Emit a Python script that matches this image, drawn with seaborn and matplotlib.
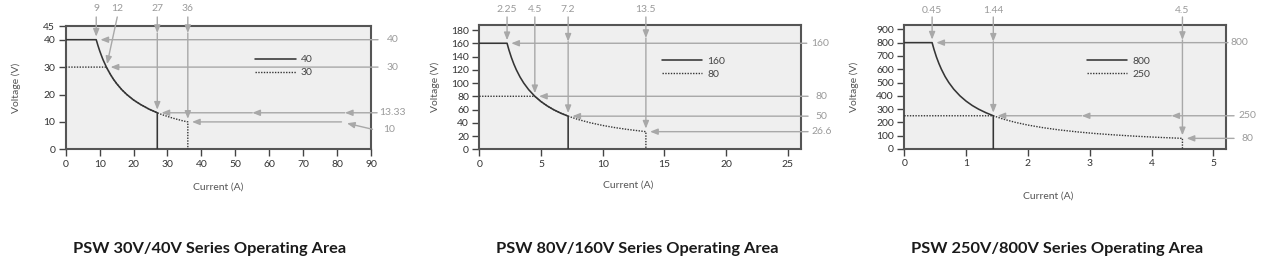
import matplotlib
matplotlib.use("Agg")
import matplotlib.pyplot as plt
import pandas as pd
import seaborn as sns

# ------------------------------------------------------------------ data
titles = ["PSW 30V/40V Series Operating Area",
          "PSW 80V/160V Series Operating Area",
          "PSW 250V/800V Series Operating Area"]

# panel 1 (30V / 40V models)
p1_series = ["40", "30"]
p1_cur_hi = [0, 9, 9.5, 10, 10.5, 11, 12, 13, 14, 15, 16.5, 18, 20, 22, 24.5, 27, 27]
p1_volt_hi = [40, 40, 37.9, 36, 34.3, 32.7, 30, 27.7, 25.7, 24, 21.8, 20, 18, 16.4, 14.7, 13.33, 0]
p1_cur_lo = [0, 12, 13, 14, 15, 16.5, 18, 20, 22, 24.5, 27, 28.5, 30, 31.5, 33, 34.5, 36, 36]
p1_volt_lo = [30, 30, 27.7, 25.7, 24, 21.8, 20, 18, 16.4, 14.7, 13.33, 12.6, 12, 11.4, 10.9, 10.4, 10, 0]
p1_mark_cur = [9, 12, 27, 36]
p1_mark_volt = [40, 30, 13.33, 10]
p1_mark_cur_lbl = ["9", "12", "27", "36"]
p1_mark_volt_lbl = ["40", "30", "13.33", "10"]
p1_xticks = [0, 10, 20, 30, 40, 50, 60, 70, 80, 90]
p1_yticks = [0, 10, 20, 30, 40, 45]

# panel 2 (80V / 160V models)
p2_series = ["160", "80"]
p2_cur_hi = [0, 2.25, 2.4, 2.6, 2.8, 3.0, 3.3, 3.6, 4.0, 4.5, 5.0, 5.5, 6.0, 6.6, 7.2, 7.2]
p2_volt_hi = [160, 160, 150, 138.5, 128.6, 120, 109.1, 100, 90, 80, 72, 65.5, 60, 54.5, 50, 0]
p2_cur_lo = [0, 4.5, 5.0, 5.5, 6.0, 6.6, 7.2, 8, 9, 10, 11, 12, 13.5, 13.5]
p2_volt_lo = [80, 80, 72, 65.5, 60, 54.5, 50, 45, 40, 36, 32.7, 30, 26.6, 0]
p2_mark_cur = [2.25, 4.5, 7.2, 13.5]
p2_mark_volt = [160, 80, 50, 26.6]
p2_mark_cur_lbl = ["2.25", "4.5", "7.2", "13.5"]
p2_mark_volt_lbl = ["160", "80", "50", "26.6"]
p2_xticks = [0, 5, 10, 15, 20, 25]
p2_yticks = [0, 20, 40, 60, 80, 100, 120, 140, 160, 180]

# panel 3 (250V / 800V models)
p3_series = ["800", "250"]
p3_cur_hi = [0, 0.45, 0.48, 0.52, 0.56, 0.6, 0.66, 0.72, 0.8, 0.9, 1.0, 1.1, 1.2, 1.32, 1.44, 1.44]
p3_volt_hi = [800, 800, 750, 692, 643, 600, 545, 500, 450, 400, 360, 327, 300, 273, 250, 0]
p3_cur_lo = [0, 1.44, 1.6, 1.8, 2.0, 2.25, 2.5, 2.8, 3.1, 3.4, 3.75, 4.1, 4.5, 4.5]
p3_volt_lo = [250, 250, 225, 200, 180, 160, 144, 128.6, 116, 106, 96, 87.8, 80, 0]
p3_mark_cur = [0.45, 1.44, 4.5]
p3_mark_volt = [800, 250, 80]
p3_mark_cur_lbl = ["0.45", "1.44", "4.5"]
p3_mark_volt_lbl = ["800", "250", "80"]
p3_xticks = [0, 1, 2, 3, 4, 5]
p3_yticks = [0, 100, 200, 300, 400, 500, 600, 700, 800, 900]

# ------------------------------------------------------------------ style
sns.set_theme(style="white")
plt.rcParams["font.family"] = ["Lato", "DejaVu Sans"]

GRAY = "#a8a8a8"
DARK = "#353535"
FRAME = "#555555"
FACE = "#efefef"

fig = plt.figure(figsize=(12.66, 2.70), dpi=100)

W, H = 1266.0, 270.0


def add_axes(left, right, top, bottom):
    return fig.add_axes([left / W, 1 - bottom / H, (right - left) / W, (bottom - top) / H])


def arrow(ax, start, end, sc, ec, shrinkB=0.0):
    ax.annotate("", xy=end, xycoords=ec, xytext=start, textcoords=sc,
                arrowprops=dict(arrowstyle="-|>,head_length=0.5,head_width=0.2",
                                color=GRAY, lw=1.0, shrinkA=0, shrinkB=shrinkB,
                                mutation_scale=9),
                annotation_clip=False, zorder=5)


XF = ("data", "axes fraction")   # x data, y axes fraction
FY = ("axes fraction", "data")   # x axes fraction, y data


def panel(ax, cur_hi, volt_hi, cur_lo, volt_lo, series, xticks, yticks, xlim, ylim,
          mark_cur, mark_volt, cur_lbl, volt_lbl, lay):
    ax.set_facecolor(FACE)
    d_hi = pd.DataFrame({"I": cur_hi, "V": volt_hi})
    d_lo = pd.DataFrame({"I": cur_lo, "V": volt_lo})
    sns.lineplot(data=d_hi, x="I", y="V", sort=False, estimator=None, ax=ax,
                 color=DARK, lw=1.15, label=series[0], zorder=4)
    sns.lineplot(data=d_lo, x="I", y="V", sort=False, estimator=None, ax=ax,
                 color=DARK, lw=1.0, ls=(0, (1, 1)), label=series[1], zorder=3)
    ax.set_xlim(*xlim)
    ax.set_ylim(*ylim)
    ax.set_xticks(xticks)
    ax.set_yticks(yticks)
    ax.tick_params(axis="both", direction="out", length=5, width=1, color="#444",
                   labelcolor="#333", labelsize=7.5, pad=2.5,
                   bottom=True, left=True)
    for sp in ax.spines.values():
        sp.set_visible(True)
        sp.set_color(FRAME)
        sp.set_linewidth(1.5)
    ax.set_xlabel("Current (A)", fontsize=7.5, color="#555")
    ax.set_ylabel("Voltage (V)", fontsize=7.5, color="#555")
    ax.xaxis.set_label_coords(*lay["xlabel"])
    ax.yaxis.set_label_coords(*lay["ylabel"])
    ax.legend(loc="upper left", bbox_to_anchor=lay["legend"], frameon=False,
              fontsize=7.5, handlelength=3.9, handletextpad=0.5, labelspacing=0.35,
              borderpad=0, borderaxespad=0, labelcolor="#444")

    # callouts from the top (current values)
    for i, (c, v, s) in enumerate(zip(mark_cur, mark_volt, cur_lbl)):
        lx = lay["top_lx"][i] if lay["top_lx"][i] is not None else c
        ax.text(lx, lay["top_ty"], s, transform=ax.get_xaxis_transform(),
                ha="center", va="center", fontsize=7.5, color="#9a9a9a")
        start = (lx, lay["top_y0"])
        mid = lay["top_mid"][i]
        if mid is not None:
            arrow(ax, start, (c, mid), XF, XF)
            start = (c, mid)
        arrow(ax, start, (c, v), XF, "data", shrinkB=2.2)

    # callouts from the right (voltage values)
    for i, (c, v, s) in enumerate(zip(mark_cur, mark_volt, volt_lbl)):
        tx, ty = lay["right_txt"][i]
        ax.text(tx, v if ty is None else ty, s, transform=ax.get_yaxis_transform(),
                ha="left", va="center", fontsize=7.5, color="#9a9a9a")
        kink = lay["right_kink"][i]
        if kink is not None:
            (k0, k1, k2) = kink
            arrow(ax, k0, k1, FY, "data")
            start, sc = k2, "data"
        else:
            start, sc = (lay["right_x0"][i], v), FY
        for m in lay["right_mid"][i]:
            arrow(ax, start, (m, v), sc, "data")
            start, sc = (m, v), "data"
        arrow(ax, start, (c, v), sc, "data", shrinkB=3.0)


# ------------------------------------------------------------------ panel 1
ax1 = add_axes(65.7, 371.0, 26.0, 149.3)
lay1 = dict(
    xlabel=(0.5, -0.27), ylabel=(-0.145, 0.5), legend=(0.62, 0.765),
    top_ty=1.138, top_y0=1.073, top_lx=[None, 15.2, None, None],
    top_mid=[None, None, 0.943, 0.943],
    right_txt=[(1.051, None), (1.051, None), (1.026, None), (1.039, 7.4)],
    right_x0=[1.023, 1.023, 1.02, None],
    right_mid=[[], [], [82.3, 55.0], []],
    right_kink=[None, None, None, ((1.005, 7.3), (82.9, 9.5), (81.3, 10))],
)
panel(ax1, p1_cur_hi, p1_volt_hi, p1_cur_lo, p1_volt_lo, p1_series, p1_xticks, p1_yticks,
      (0, 90), (0, 45), p1_mark_cur, p1_mark_volt, p1_mark_cur_lbl, p1_mark_volt_lbl, lay1)

# ------------------------------------------------------------------ panel 2
ax2 = add_axes(479.3, 801.0, 24.7, 149.3)
lay2 = dict(
    xlabel=(0.462, -0.25), ylabel=(-0.122, 0.5), legend=(0.567, 0.745),
    top_ty=1.118, top_y0=1.062, top_lx=[None, None, None, None],
    top_mid=[None, None, 0.864, 0.893],
    right_txt=[(1.033, None), (1.044, None), (1.044, None), (1.033, None)],
    right_x0=[1.018, 1.022, 1.022, 1.022],
    right_mid=[[], [], [], []],
    right_kink=[None, None, None, None],
)
panel(ax2, p2_cur_hi, p2_volt_hi, p2_cur_lo, p2_volt_lo, p2_series, p2_xticks, p2_yticks,
      (0, 26.07), (0, 188), p2_mark_cur, p2_mark_volt, p2_mark_cur_lbl, p2_mark_volt_lbl, lay2)

# ------------------------------------------------------------------ panel 3
ax3 = add_axes(904.3, 1225.7, 24.7, 149.0)
lay3 = dict(
    xlabel=(0.447, -0.34), ylabel=(-0.141, 0.5), legend=(0.568, 0.745),
    top_ty=1.118, top_y0=1.062, top_lx=[None, None, None],
    top_mid=[None, 0.863, 0.877],
    right_txt=[(1.015, None), (1.039, None), (1.049, None)],
    right_x0=[1.007, 1.026, 1.026],
    right_mid=[[], [4.32, 2.87], []],
    right_kink=[None, None, None],
)
panel(ax3, p3_cur_hi, p3_volt_hi, p3_cur_lo, p3_volt_lo, p3_series, p3_xticks, p3_yticks,
      (0, 5.2), (0, 935), p3_mark_cur, p3_mark_volt, p3_mark_cur_lbl, p3_mark_volt_lbl, lay3)

# ------------------------------------------------------------------ titles
for xc, t in zip([210, 637, 1057], titles):
    fig.text(xc / W, 1 - 249 / H, t, ha="center", va="center", fontsize=11.8,
             fontweight="bold", color="#1a1a1a")

fig.savefig("out.png", dpi=100, facecolor="white")
